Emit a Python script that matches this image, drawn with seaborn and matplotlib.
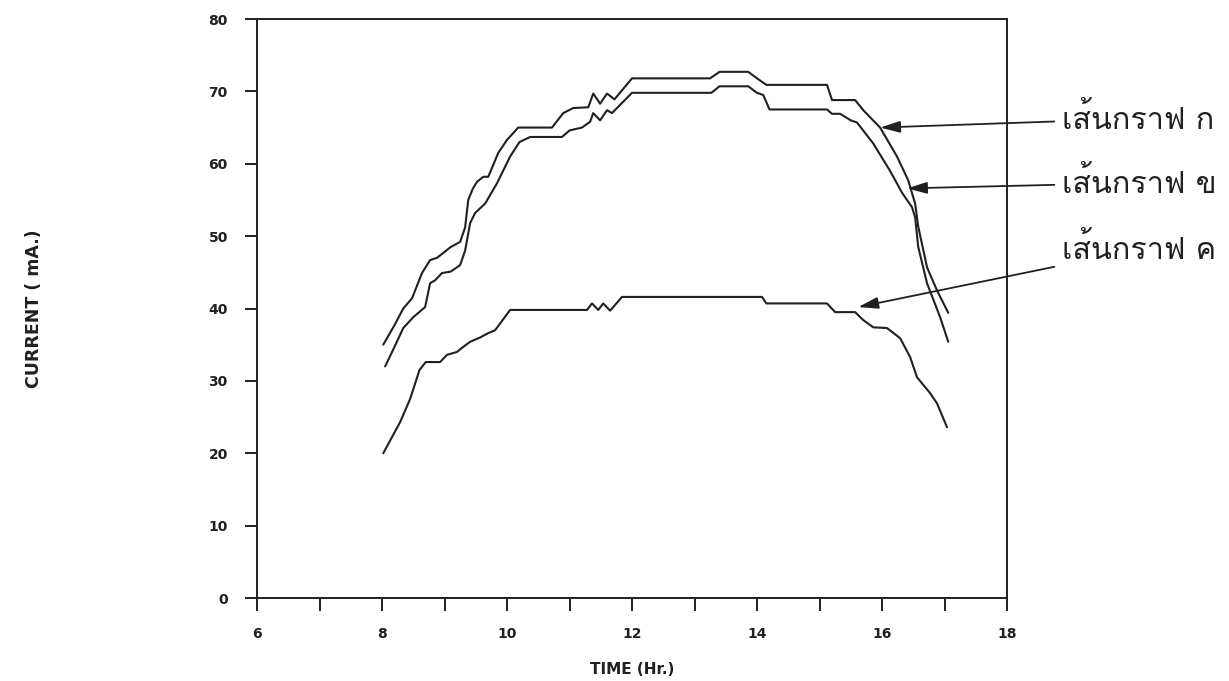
import numpy as np
import pandas as pd
import matplotlib
matplotlib.use("Agg")
import matplotlib.pyplot as plt
import seaborn as sns
from matplotlib import font_manager as fm

# ---------------- data ----------------
time_a = [8.02, 8.2, 8.34, 8.48, 8.64, 8.77, 8.88, 9.1, 9.25, 9.33, 9.38, 9.45, 9.52, 9.62,
          9.7, 9.86, 10.0, 10.18, 10.72, 10.9, 11.06, 11.3, 11.38, 11.49, 11.6, 11.72, 12.0,
          13.25, 13.4, 13.86, 14.0, 14.15, 15.12, 15.2, 15.57, 15.7, 15.97, 16.24, 16.42,
          16.53, 16.58, 16.72, 16.88, 17.06]
current_a = [35, 37.7, 40, 41.4, 44.9, 46.7, 47, 48.5, 49.2, 51.2, 55, 56.5, 57.5, 58.2,
             58.2, 61.5, 63.3, 65, 65, 67, 67.7, 67.8, 69.7, 68.3, 69.7, 68.9, 71.8,
             71.8, 72.7, 72.7, 71.8, 70.9, 70.9, 68.8, 68.8, 67.4, 65, 61, 57.7,
             54.5, 51.3, 45.7, 42.5, 39.4]

time_b = [8.05, 8.2, 8.34, 8.5, 8.69, 8.77, 8.85, 8.96, 9.1, 9.25, 9.33, 9.41, 9.49, 9.65,
          9.84, 10.05, 10.2, 10.37, 10.88, 11.0, 11.2, 11.33, 11.38, 11.49, 11.6, 11.68,
          12.0, 13.27, 13.4, 13.86, 14.0, 14.1, 14.2, 15.12, 15.2, 15.33, 15.5, 15.6, 15.86,
          16.13, 16.32, 16.48, 16.53, 16.58, 16.72, 16.93, 17.06]
current_b = [32, 34.7, 37.3, 38.8, 40.2, 43.5, 43.9, 44.9, 45.1, 46, 48, 51.8, 53.2, 54.5,
             57.3, 61, 63, 63.7, 63.7, 64.6, 65, 65.8, 67, 66, 67.4, 67,
             69.8, 69.8, 70.7, 70.7, 69.8, 69.5, 67.5, 67.5, 66.9, 66.9, 66, 65.7, 62.8,
             59, 56, 54, 52.6, 48.5, 43.5, 38.8, 35.4]

time_c = [8.02, 8.29, 8.45, 8.6, 8.7, 8.93, 9.04, 9.2, 9.3, 9.41, 9.57, 9.7, 9.81, 10.05,
          11.28, 11.36, 11.46, 11.54, 11.65, 11.84, 14.08, 14.15, 15.12, 15.25, 15.57, 15.7,
          15.86, 16.08, 16.29, 16.45, 16.56, 16.77, 16.88, 17.04]
current_c = [20, 24.3, 27.5, 31.5, 32.6, 32.6, 33.6, 34, 34.7, 35.4, 36, 36.6, 37, 39.8,
             39.8, 40.7, 39.8, 40.7, 39.7, 41.6, 41.6, 40.7, 40.7, 39.5, 39.5, 38.4,
             37.4, 37.3, 35.9, 33.3, 30.5, 28.3, 26.9, 23.6]

series_names = ["เส้นกราฟ ก", "เส้นกราฟ ข", "เส้นกราฟ ค"]
x_ticks = list(range(6, 19))
x_tick_labels = [str(v) if v % 2 == 0 else "" for v in x_ticks]
y_ticks = list(range(0, 81, 10))

# ---------------- find a Thai-capable font ----------------
thai_fams = []
try:
    from fontTools.ttLib import TTFont
    for f in fm.fontManager.ttflist:
        try:
            tt = TTFont(f.fname, fontNumber=0, lazy=True)
            cmap = tt.getBestCmap()
            if cmap and 0x0E01 in cmap and 0x0E49 in cmap:
                if f.name not in thai_fams:
                    thai_fams.append(f.name)
        except Exception:
            pass
except Exception:
    pass

thai_family = "DejaVu Sans"
for pref in ["Loma", "Waree", "Garuda"]:
    if pref in thai_fams:
        thai_family = pref
        break
else:
    if thai_fams:
        thai_family = thai_fams[0]

sns.set_style("white")
plt.rcParams["font.family"] = ["DejaVu Sans"]

fig = plt.figure(figsize=(12.29, 6.81), dpi=100)
ax = fig.add_axes([257/1229, 1 - 598/681, 750/1229, 579/681])

line_kw = dict(color="#202020", linewidth=1.5, estimator=None, sort=False, ax=ax)
df_a = pd.DataFrame({"t": time_a, "c": current_a})
df_b = pd.DataFrame({"t": time_b, "c": current_b})
df_c = pd.DataFrame({"t": time_c, "c": current_c})
sns.lineplot(data=df_a, x="t", y="c", **line_kw)
sns.lineplot(data=df_b, x="t", y="c", **line_kw)
sns.lineplot(data=df_c, x="t", y="c", **line_kw)

ax.set_xlim(6, 18)
ax.set_ylim(0, 80)
ax.set_xticks(x_ticks)
ax.set_xticklabels(x_tick_labels)
ax.set_yticks(y_ticks)
ax.tick_params(axis="both", which="both", direction="out", length=9, width=1.4,
               color="#202020", labelsize=10, pad=12, left=True, bottom=True)
for lab in ax.get_xticklabels() + ax.get_yticklabels():
    lab.set_fontweight("bold")
    lab.set_color("#202020")
for s in ax.spines.values():
    s.set_visible(True)
    s.set_linewidth(1.4)
    s.set_color("#202020")

ax.set_xlabel("TIME (Hr.)", fontsize=11, fontweight="bold", color="#202020", labelpad=15)
ax.set_ylabel("CURRENT ( mA.)", fontsize=12.5, fontweight="bold", color="#202020")
ax.yaxis.set_label_coords(-0.285, 0.5)

heads = [(15.97, 65.0), (16.40, 56.6), (15.62, 40.2)]
text_pos = [(1.073, 0.828), (1.073, 0.717), (1.073, 0.602)]
for name, (hx, hy), (tx, ty) in zip(series_names, heads, text_pos):
    ax.annotate(name, xy=(hx, hy), xycoords="data", xytext=(tx, ty),
                textcoords="axes fraction", ha="left", va="center",
                fontsize=22, family=[thai_family, "DejaVu Sans"], color="#202020",
                annotation_clip=False,
                arrowprops=dict(arrowstyle="-|>,head_length=0.55,head_width=0.16",
                                color="#202020", lw=1.3, shrinkA=3, shrinkB=0))

fig.savefig("out.png", dpi=100)
